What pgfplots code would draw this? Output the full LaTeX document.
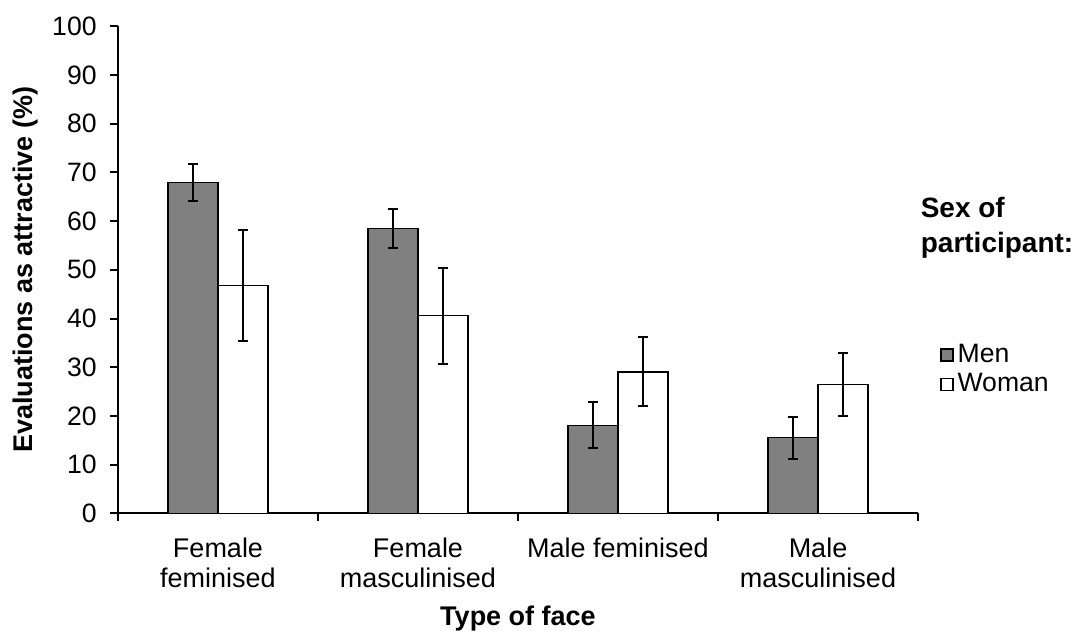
\documentclass[border=0pt]{standalone}
\usepackage{fontspec}
\setmainfont{Liberation Sans}
\usepackage{pgfplots}
\pgfplotsset{compat=1.18}
\definecolor{bargray}{RGB}{128,128,128}
\begin{document}
\begin{tikzpicture}
\begin{axis}[
  scale only axis, width=400pt, height=243.5pt,
  xmin=-0.5, xmax=3.5, ymin=0, ymax=100,
  clip=false,
  axis lines*=left,
  axis line style={line width=1pt},
  every tick/.style={black, line width=1pt},
  tick align=outside, major tick length=4pt,
  ybar=0pt, bar width=25pt,
  xtick={-0.5,0.5,1.5,2.5,3.5}, xticklabels={},
  extra x ticks={0,1,2,3},
  extra x tick labels={{Female\\feminised},{Female\\masculinised},{Male feminised},{Male\\masculinised}},
  extra x tick style={major tick length=0pt,
    xticklabel style={align=center, anchor=north, inner sep=0pt, yshift=-12pt,
      font=\fontsize{13.5}{15}\selectfont}},
  ytick={0,10,...,100},
  /pgf/number format/assume math mode=true,
  yticklabel style={font=\fontsize{13.3}{15}\selectfont, anchor=east, inner sep=0pt, xshift=-6.5pt},
  ylabel={Evaluations as attractive (\%)},
  ylabel style={font=\bfseries\fontsize{13.5}{16}\selectfont, at={(axis description cs:-0.116,0.5)}, anchor=center},
  xlabel={Type of face},
  xlabel style={font=\bfseries\fontsize{13.5}{16}\selectfont, at={(axis description cs:0.5,-0.216)}, anchor=center},
  legend style={at={(rel axis cs:1.0275,0.356)}, anchor=north west, draw=none, inner sep=0pt,
    font=\fontsize{13.3}{15}\selectfont, row sep=0pt,
    /tikz/every even column/.append style={column sep=2pt}},
  legend cell align=left,
  legend image code/.code={\draw[#1, line width=0.6pt] (0pt,-3pt) rectangle (6pt,3pt);},
  error bars/y dir=both, error bars/y explicit,
  error bars/error bar style={line width=1pt, black},
  error bars/error mark options={rotate=90, mark size=2.6pt, line width=1pt, black},
]
\addplot[fill=bargray, draw=black, line width=0.6pt] coordinates {
  (0,68.0) += (0,3.7) -= (0,3.9)
  (1,58.4) += (0,4.1) -= (0,4.0)
  (2,18.1) += (0,4.7) -= (0,4.6)
  (3,15.6) += (0,4.2) -= (0,4.4)
};
\addlegendentry{Men}
\addplot[fill=white, draw=black, line width=0.6pt] coordinates {
  (0,46.7) += (0,11.4) -= (0,11.4)
  (1,40.6) += (0,9.8) -= (0,9.9)
  (2,29.0) += (0,7.1) -= (0,7.0)
  (3,26.4) += (0,6.5) -= (0,6.5)
};
\addlegendentry{Woman}
\node[anchor=north west, align=left, inner sep=0pt, font=\bfseries\fontsize{14}{17.5}\selectfont]
  at (rel axis cs:1.003,0.65) {Sex of\\participant:};
\path (rel axis cs:-0.1475,-0.2437) rectangle (rel axis cs:1.2025,1.054);
\end{axis}
\end{tikzpicture}
\end{document}
